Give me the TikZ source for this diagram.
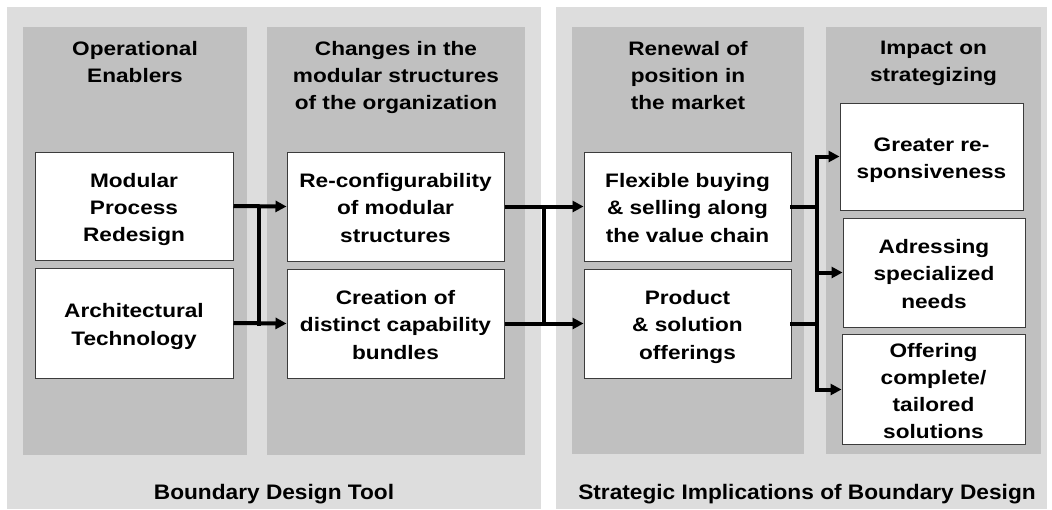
\documentclass[tikz,border=0pt]{standalone}
\usepackage{fontspec}
\setmainfont{Liberation Sans}
\newfontfamily\boxfont{Liberation Sans}[FakeStretch=1.16]
\newfontfamily\labfont{Liberation Sans}[FakeStretch=1.08]
\usetikzlibrary{arrows.meta}
\definecolor{panelgrey}{RGB}{221,221,221}
\definecolor{colgrey}{RGB}{192,192,192}
\definecolor{edgegrey}{RGB}{60,60,60}
\newcommand\boxlines[1]{\raisebox{-3pt}[\height][\depth]{\begin{tabular}{@{}c@{}}#1\end{tabular}}}
\tikzset{
  panel/.style={fill=panelgrey, draw=none},
  column/.style={fill=colgrey, draw=none},
  box/.style={draw=edgegrey, line width=1pt, fill=white, inner sep=0pt, align=center,
    font={\boxfont\bfseries\fontsize{19.5}{27.3}\selectfont}},
  header/.style={anchor=north, inner sep=0pt, align=center,
    font={\boxfont\bfseries\fontsize{19.5}{27.3}\selectfont}},
  footer/.style={anchor=base, inner sep=0pt, font={\labfont\bfseries\fontsize{21}{25}\selectfont}},
  conn/.style={line width=4pt, -{Triangle[length=11pt,width=11pt]}},
  bar/.style={line width=4pt, line cap=rect},
}
\begin{document}
\begin{tikzpicture}[x=1pt,y=-1pt]
\useasboundingbox (0,0) rectangle (1052,509);
% panels
\path[panel] (7,7) rectangle (541,509);
\path[panel] (556,7) rectangle (1047,509);
% columns
\path[column] (23,27) rectangle (247,455);
\path[column] (267,27) rectangle (525,455);
\path[column] (572,27) rectangle (804,454);
\path[column] (826,27) rectangle (1041,454);
% headers
\node[header] (h1) at (135,41) {Operational\\Enablers};
\node[header] (h2) at (396,41) {Changes in the\\modular structures\\of the organization};
\node[header] (h3) at (688,41) {Renewal of\\position in\\the market};
\node[header] (h4) at (933.5,41) {Impact on\\strategizing};
% boxes
\node[box, minimum width=198pt, minimum height=108pt] (b1) at (134,206) {\boxlines{Modular\\Process\\Redesign}};
\node[box, minimum width=198pt, minimum height=110pt] (b2) at (134,323) {\boxlines{Architectural\\Technology}};
\node[box, minimum width=217pt, minimum height=109pt] (b3) at (395.5,206.5) {\boxlines{Re-configurability\\of modular\\structures}};
\node[box, minimum width=217pt, minimum height=109pt] (b4) at (395.5,323.5) {\boxlines{Creation of\\distinct capability\\bundles}};
\node[box, minimum width=207pt, minimum height=109pt] (b5) at (687.5,206.5) {\boxlines{Flexible buying\\\& selling along\\the value chain}};
\node[box, minimum width=207pt, minimum height=109pt] (b6) at (687.5,323.5) {\boxlines{Product\\\& solution\\offerings}};
\node[box, minimum width=183pt, minimum height=107pt] (b7) at (931.5,156.5) {\boxlines{Greater re-\\sponsiveness}};
\node[box, minimum width=182pt, minimum height=109pt] (b8) at (934,272.5) {\boxlines{Adressing\\specialized\\needs}};
\node[box, minimum width=183pt, minimum height=109pt] (b9) at (933.5,389.5) {\boxlines{Offering\\complete/\\tailored\\solutions}};
% footers
\node[footer] (f1) at (274,499) {Boundary Design Tool};
\node[footer] (f2) at (807,499) {Strategic Implications of Boundary Design};
% junction coordinates
\coordinate (j1a) at (259,206.5);
\coordinate (j1b) at (259,323.5);
\coordinate (j2a) at (544,206.5);
\coordinate (j2b) at (544,323.5);
\coordinate (j3a) at (817,156.5);
\coordinate (j3b) at (817,272.5);
\coordinate (j3c) at (817,389.5);
\coordinate (j3i) at (817,206.5);
\coordinate (j3j) at (817,323.5);
% connectors
\draw[conn] (b1.east) -- (b3.west);
\draw[conn] (b2.east) -- (b4.west);
\draw[bar] (j1a) -- (j1b);
\draw[conn] (b3.east) -- (b5.west);
\draw[conn] (b4.east) -- (b6.west);
\draw[bar] (j2a) -- (j2b);
\draw[bar] (b5.east) -- (j3i);
\draw[bar] (b6.east) -- (j3j);
\draw[bar] (j3a) -- (j3c);
\draw[conn] (j3a) -- (b7.west);
\draw[conn] (j3b) -- (b8.west);
\draw[conn] (j3c) -- (b9.west);
\end{tikzpicture}
\end{document}
